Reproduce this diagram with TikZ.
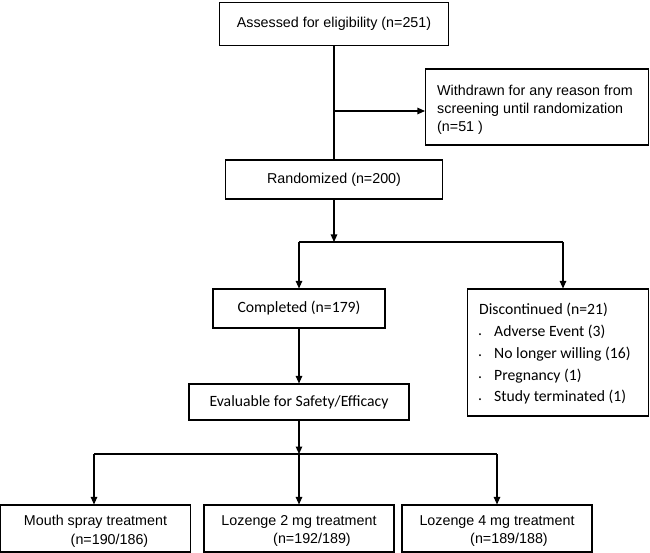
\documentclass[tikz,border=0pt]{standalone}
\usepackage{fontspec}
\setmainfont{Liberation Sans}
\newfontfamily\calfont{Carlito}
\usetikzlibrary{arrows.meta}
\newcommand{\arialtxt}{\fontsize{14.3}{18.3}\selectfont}
\newcommand{\caltxt}{\calfont\fontsize{15.7}{21.7}\selectfont}
\newcommand{\bul}{\makebox[16pt][l]{\raisebox{1.5pt}{.}}}
\begin{document}
\begin{tikzpicture}[x=1pt,y=-1pt,
  box/.style={draw, line width=1.1pt, inner sep=0pt, align=center, font=\arialtxt},
  calbox/.style={box, font=\caltxt},
  txt/.style={inner sep=0pt, font=\arialtxt},
  caltx/.style={inner sep=0pt, font=\caltxt},
  conn/.style={line width=1.1pt},
  arr/.style={conn, -{Triangle[length=7.5pt,width=6.5pt]}}]
\useasboundingbox (0,0) rectangle (650,553);
\fill[white] (0,0) rectangle (650,553);

\node[box, minimum width=229pt, minimum height=43pt] (A) at (334,24) {Assessed for eligibility (n=251)};
\node[box, minimum width=223pt, minimum height=76pt] (W) at (537,107) {};
\node[txt, anchor=north west, align=left] (Wt) at (437,84.5) {Withdrawn for any reason from\\screening until randomization\\(n=51 )};
\node[box, minimum width=217pt, minimum height=39pt] (R) at (334,179.5) {Randomized (n=200)};
\node[calbox, minimum width=172pt, minimum height=39pt] (C) at (299,308.5) {Completed (n=179)};
\node[box, minimum width=181pt, minimum height=127pt] (D) at (558,352.5) {};
\node[caltx, anchor=north west, align=left] (Dt) at (479,303.3) {Discontinued (n=21)\\[0pt]
\hspace*{-1pt}\bul Adverse Event (3)\\
\hspace*{-1pt}\bul No longer willing (16)\\
\hspace*{-1pt}\bul Pregnancy (1)\\
\hspace*{-1pt}\bul Study terminated (1)};
\node[calbox, minimum width=220pt, minimum height=36pt] (E) at (299,402) {Evaluable for Safety/Efficacy};
\node[box, minimum width=190pt, minimum height=47pt] (M) at (95.5,528.5) {};
\node[box, minimum width=190pt, minimum height=47pt] (L2) at (299,528.5) {};
\node[box, minimum width=190pt, minimum height=47pt] (L4) at (497,528.5) {};
\node[txt, align=center] (Mt) at (95.5,531.2) {Mouth spray treatment\\\hspace*{28pt}(n=190/186)};
\node[txt, align=center] (L2t) at (299,531.2) {Lozenge 2 mg treatment\\\hspace*{26pt}(n=192/189)};
\node[txt, align=center] (L4t) at (497,531.2) {Lozenge 4 mg treatment\\\hspace*{24pt}(n=189/188)};

\coordinate (w1) at (334,111);
\draw[conn] (A.south) -- (R.north);
\draw[arr] (w1) -- (w1 -| W.west);
\coordinate (b1) at (334,242);
\coordinate (b1l) at (299,242);
\coordinate (b1r) at (563,242);
\draw[arr] (R.south) -- (b1);
\draw[conn] (b1l) -- (b1r);
\draw[arr] (b1l) -- (b1l |- C.north);
\draw[arr] (b1r) -- (b1r |- D.north);
\draw[arr] (C.south) -- (E.north);
\coordinate (b2) at (299,454);
\coordinate (b2l) at (94,454);
\coordinate (b2r) at (497,454);
\draw[arr] (E.south) -- (b2);
\draw[conn] (b2l) -- (b2r);
\draw[arr] (b2l) -- (b2l |- M.north);
\draw[arr] (b2) -- (L2.north);
\draw[arr] (b2r) -- (L4.north);
\end{tikzpicture}
\end{document}
